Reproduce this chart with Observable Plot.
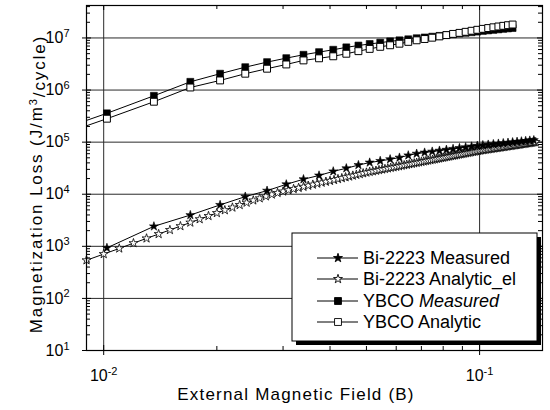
<!DOCTYPE html>
<html>
<head>
<meta charset="utf-8">
<script src="https://cdn.jsdelivr.net/npm/d3@7"></script>
<script src="https://cdn.jsdelivr.net/npm/@observablehq/plot@0.6"></script>
<style>
  html, body { margin: 0; padding: 0; background: #fff; }
  svg { display: block; }
</style>
</head>
<body>
<div id="chart"></div>
<script>
// ---------- data ----------
const ybcoX = [0.0068, 0.0102, 0.0136, 0.017, 0.0204, 0.0238, 0.0272, 0.0306, 0.034, 0.0374, 0.0408, 0.0442, 0.0476, 0.051, 0.0544, 0.0578, 0.0612, 0.0646, 0.068, 0.0714, 0.0748, 0.0782, 0.0816, 0.085, 0.0884, 0.0918, 0.0952, 0.0986, 0.102, 0.1054, 0.1088, 0.1122, 0.1156, 0.119, 0.1224];
const ybcoMeasured = [1.29e5, 3.58e5, 7.76e5, 1.44e6, 2.06e6, 2.75e6, 3.44e6, 4.10e6, 4.76e6, 5.35e6, 5.94e6, 6.61e6, 7.16e6, 7.67e6, 8.13e6, 8.61e6, 9.02e6, 9.44e6, 9.89e6, 1.023e7, 1.059e7, 1.096e7, 1.135e7, 1.175e7, 1.216e7, 1.253e7, 1.288e7, 1.324e7, 1.365e7, 1.396e7, 1.429e7, 1.462e7, 1.496e7, 1.524e7, 1.549e7];
const ybcoAnalytic = [1.02e5, 2.82e5, 5.97e5, 1.12e6, 1.53e6, 2.06e6, 2.57e6, 3.10e6, 3.71e6, 4.07e6, 4.45e6, 4.98e6, 5.58e6, 6.17e6, 6.76e6, 7.24e6, 7.76e6, 8.41e6, 9.02e6, 9.55e6, 1.012e7, 1.072e7, 1.135e7, 1.197e7, 1.253e7, 1.312e7, 1.374e7, 1.435e7, 1.496e7, 1.549e7, 1.603e7, 1.660e7, 1.710e7, 1.758e7, 1.811e7];

const biMeasX = [0.0102, 0.0136, 0.017, 0.0204, 0.0238, 0.0272, 0.0306, 0.034, 0.0374, 0.0408, 0.0442, 0.0476, 0.051, 0.0544, 0.0578, 0.0612, 0.0646, 0.068, 0.0714, 0.0748, 0.0782, 0.0816, 0.085, 0.0884, 0.0918, 0.0952, 0.0986, 0.102, 0.1054, 0.1088, 0.1122, 0.1156, 0.119, 0.1224, 0.1258, 0.1292, 0.1326, 0.136, 0.1394];
const biMeasured = [933, 2420, 3980, 6240, 8990, 11700, 15500, 19400, 22900, 27500, 31500, 36300, 40600, 43600, 46900, 50500, 55800, 60100, 63100, 65900, 68700, 71500, 74300, 77100, 79800, 82600, 85300, 87700, 89700, 91700, 93700, 95700, 97700, 99600, 101600, 103500, 105400, 107200, 109100];

const biAnaX = [0.009, 0.010, 0.011, 0.012, 0.013, 0.014, 0.015, 0.016, 0.017, 0.018, 0.019, 0.020, 0.021, 0.022, 0.023, 0.024, 0.025, 0.026, 0.027, 0.028, 0.029, 0.030, 0.031, 0.032, 0.033, 0.034, 0.035, 0.036, 0.037, 0.038, 0.039, 0.040, 0.041, 0.042, 0.043, 0.044, 0.045, 0.046, 0.047, 0.048, 0.049, 0.050, 0.051, 0.052, 0.053, 0.054, 0.055, 0.056, 0.057, 0.058, 0.059, 0.060, 0.061, 0.062, 0.063, 0.064, 0.065, 0.066, 0.067, 0.068, 0.069, 0.070, 0.071, 0.072, 0.073, 0.074, 0.075, 0.076, 0.077, 0.078, 0.079, 0.080, 0.081, 0.082, 0.083, 0.084, 0.085, 0.086, 0.087, 0.088, 0.089, 0.090, 0.091, 0.092, 0.093, 0.094, 0.095, 0.096, 0.097, 0.098, 0.099, 0.100, 0.101, 0.102, 0.103, 0.104, 0.105, 0.106, 0.107, 0.108, 0.109, 0.110, 0.111, 0.112, 0.113, 0.114, 0.115, 0.116, 0.117, 0.118, 0.119, 0.120, 0.121, 0.122, 0.123, 0.124, 0.125, 0.126, 0.127, 0.128, 0.129, 0.130, 0.131, 0.132, 0.133, 0.134, 0.135, 0.136, 0.137, 0.138, 0.139, 0.140, 0.141];
const biAnalytic = [540, 710, 910, 1150, 1420, 1720, 2060, 2440, 2860, 3320, 3820, 4360, 4940, 5560, 6220, 6900, 7620, 8360, 9120, 9880, 10600, 11300, 11950, 12600, 13250, 13900, 14600, 15300, 16000, 16700, 17400, 18100, 18800, 19600, 20400, 21200, 21900, 22800, 23600, 24400, 25300, 26100, 26900, 27600, 28300, 29100, 29900, 30600, 31400, 32200, 32900, 33700, 34500, 35300, 36100, 36900, 37700, 38500, 39300, 40200, 41000, 41800, 42700, 43500, 44400, 45200, 46100, 46900, 47800, 48700, 49600, 50400, 51300, 52200, 53100, 54000, 54900, 55800, 56700, 57700, 58600, 59500, 60400, 61300, 62300, 63200, 64100, 65100, 66100, 67000, 68000, 68900, 69700, 70500, 71200, 72000, 72700, 73500, 74300, 75000, 75800, 76500, 77300, 78100, 78800, 79600, 80400, 81200, 81900, 82700, 83500, 84200, 85000, 85800, 86600, 87300, 88100, 88900, 89700, 90400, 91200, 92000, 92800, 93600, 94300, 95100, 95900, 96700, 97500, 98200, 99000, 99800, 100500];

const seriesNames = ["Bi-2223 Measured", "Bi-2223 Analytic_el", "YBCO Measured", "YBCO Analytic"];
const yDecades = [1e1, 1e2, 1e3, 1e4, 1e5, 1e6, 1e7];
const xDecades = [1e-2, 1e-1];
const minorSteps = [2, 3, 4, 5, 6, 7, 8, 9];

// ---------- build ----------
const xDomain = [0.009, 0.147];
const yDomain = [10, 4.2e7];
const toRows = (xs, ys) => xs.map((x, i) => ({x, y: ys[i]}));
const ybcoM = toRows(ybcoX, ybcoMeasured);
const ybcoA = toRows(ybcoX, ybcoAnalytic);
const biM = toRows(biMeasX, biMeasured);
const biA = toRows(biAnaX, biAnalytic);
const inside = d => d.x >= xDomain[0] && d.x <= xDomain[1];

const yMinor = yDecades.flatMap(d => minorSteps.map(m => m * d)).filter(v => v > yDomain[0] && v < yDomain[1]);
const xMinor = [1e-3, 1e-2, 1e-1].flatMap(d => minorSteps.map(m => m * d)).filter(v => v > xDomain[0] && v < xDomain[1]);

const W = 550, H = 410, mL = 86, mR = 8, mT = 5, mB = 60;
const fw = W - mL - mR, fh = H - mT - mB;
const font = "'Liberation Sans', Arial, Helvetica, sans-serif";
const sup = d => "10^" + Math.round(Math.log10(d));

const rSq = 3.9, rStar = 2.8;

const plot = Plot.plot({
  width: W, height: H,
  marginLeft: mL, marginRight: mR, marginTop: mT, marginBottom: mB,
  style: {fontFamily: font, fontSize: "16px", color: "black", background: "white", overflow: "visible"},
  x: {type: "log", domain: xDomain},
  y: {type: "log", domain: yDomain},
  marks: [
    // grid
    Plot.ruleY(yDecades.slice(1), {stroke: "#2a2a2a", strokeWidth: 1}),
    Plot.ruleX(xDecades, {stroke: "#2a2a2a", strokeWidth: 1}),
    // minor ticks (inward)
    Plot.tickY(yMinor, {y: d => d, insetRight: fw - 4, stroke: "black"}),
    Plot.tickY(yMinor, {y: d => d, insetLeft: fw - 4, stroke: "black"}),
    Plot.tickX(xMinor, {x: d => d, insetTop: fh - 4, stroke: "black"}),
    Plot.tickX(xMinor, {x: d => d, insetBottom: fh - 4, stroke: "black"}),
    // major ticks
    Plot.tickY(yDecades, {y: d => d, insetLeft: -4, insetRight: fw - 5, stroke: "black"}),
    Plot.tickY(yDecades, {y: d => d, insetLeft: fw - 5, stroke: "black"}),
    Plot.tickX(xDecades, {x: d => d, insetTop: fh - 5, insetBottom: -5, stroke: "black"}),
    Plot.tickX(xDecades, {x: d => d, insetBottom: fh - 5, stroke: "black"}),
    // axes labels
    Plot.axisY(yDecades, {anchor: "left", tickSize: 0, tickPadding: 17, tickFormat: sup, label: null, fontSize: 16}),
    Plot.axisX(xDecades, {anchor: "bottom", tickSize: 0, tickPadding: 19, tickFormat: sup, label: null, fontSize: 16}),
    // Bi-2223 analytic
    Plot.line(biA, {x: "x", y: "y", stroke: "black", strokeWidth: 1, clip: true}),
    Plot.dot(biA.filter(inside), {x: "x", y: "y", symbol: "star", r: rStar, fill: "white", stroke: "black", strokeWidth: 0.8}),
    // Bi-2223 measured
    Plot.line(biM, {x: "x", y: "y", stroke: "black", strokeWidth: 1, clip: true}),
    Plot.dot(biM.filter(inside), {x: "x", y: "y", symbol: "star", r: rStar, fill: "black", stroke: "black", strokeWidth: 0.6}),
    // YBCO measured
    Plot.line(ybcoM, {x: "x", y: "y", stroke: "black", strokeWidth: 1, clip: true}),
    Plot.dot(ybcoM.filter(inside), {x: "x", y: "y", symbol: "square", r: rSq, fill: "black", stroke: "black", strokeWidth: 0.6}),
    // YBCO analytic
    Plot.line(ybcoA, {x: "x", y: "y", stroke: "black", strokeWidth: 1, clip: true}),
    Plot.dot(ybcoA.filter(inside), {x: "x", y: "y", symbol: "square", r: rSq, fill: "white", stroke: "black", strokeWidth: 1}),
    Plot.frame({stroke: "black", strokeWidth: 1.2})
  ]
});

document.getElementById("chart").appendChild(plot);
const svg = d3.select(plot);

// superscript tick labels
svg.selectAll('g[aria-label="y-axis tick label"] text, g[aria-label="x-axis tick label"] text').each(function () {
  const t = d3.select(this);
  const [b, e] = t.text().split("^");
  t.text(null);
  t.append("tspan").text(b);
  t.append("tspan").attr("dy", "-0.55em").attr("font-size", "11px").text(e);
});

// axis titles
svg.append("text")
  .attr("x", 296).attr("y", 400)
  .style("text-anchor", "middle")
  .style("font-family", font).style("font-size", "17px").style("letter-spacing", "1.2px")
  .style("fill", "black")
  .text("External Magnetic Field (B)");

const yt = svg.append("text")
  .attr("transform", "translate(42,184) rotate(-90)")
  .style("text-anchor", "middle")
  .style("font-family", font).style("font-size", "17px").style("letter-spacing", "1.9px")
  .style("fill", "black");
yt.append("tspan").text("Magnetization Loss (J/m");
yt.append("tspan").attr("dy", "-0.5em").style("font-size", "11px").text("3");
yt.append("tspan").attr("dy", "0.5em").text("/cycle)");

// legend
const lg = svg.append("g");
const bx = 292, by = 233, bw = 245, bh = 108;
lg.append("rect").attr("x", bx + 4).attr("y", by + 4).attr("width", bw).attr("height", bh)
  .style("fill", "black").style("stroke", "none");
lg.append("rect").attr("x", bx).attr("y", by).attr("width", bw).attr("height", bh)
  .style("fill", "white").style("stroke", "black").style("stroke-width", "1px");
const rowsY = [258, 279, 301, 322];
const legendSym = [
  {sym: d3.symbolStar, r: rStar, fill: "black"},
  {sym: d3.symbolStar, r: rStar, fill: "white"},
  {sym: d3.symbolSquare, r: rSq, fill: "black"},
  {sym: d3.symbolSquare, r: rSq, fill: "white"}
];
seriesNames.forEach((name, i) => {
  const y = rowsY[i];
  lg.append("line").attr("x1", 317).attr("x2", 358).attr("y1", y).attr("y2", y)
    .style("stroke", "black").style("stroke-width", "1px");
  lg.append("path")
    .attr("transform", `translate(338,${y})`)
    .attr("d", d3.symbol(legendSym[i].sym, Math.PI * legendSym[i].r ** 2)())
    .style("fill", legendSym[i].fill).style("stroke", "black").style("stroke-width", "0.9px");
  const t = lg.append("text").attr("x", 363).attr("y", y).attr("dy", "0.35em")
    .style("text-anchor", "start")
    .style("font-family", font).style("font-size", "18px").style("fill", "black");
  if (name === "YBCO Measured") {
    t.append("tspan").text("YBCO ");
    t.append("tspan").style("font-style", "italic").text("Measured");
  } else {
    t.text(name);
  }
});
</script>
</body>
</html>
